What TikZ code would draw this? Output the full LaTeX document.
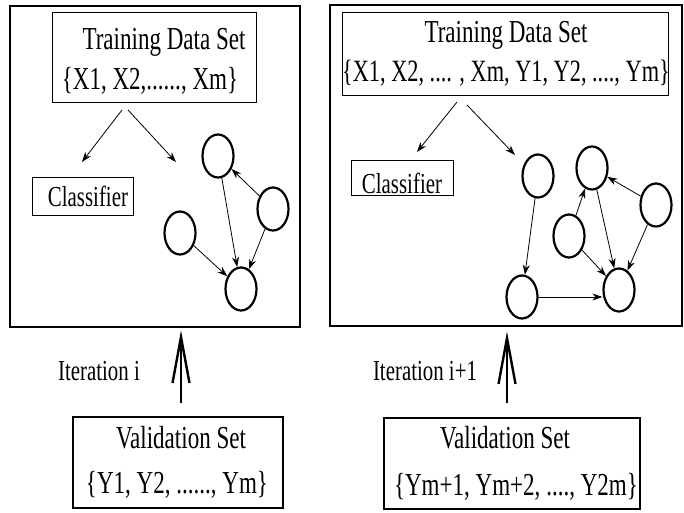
\documentclass[tikz,border=0pt]{standalone}
\usepackage{fontspec}
\setmainfont{Liberation Serif}[FakeStretch=0.72]
\usetikzlibrary{shapes.geometric,arrows.meta}

\begin{document}
\begin{tikzpicture}[x=1pt,y=-1pt,
  panel/.style={draw, line width=2.5pt, inner sep=0pt},
  setbox/.style={draw, line width=0.9pt, inner sep=0pt},
  valbox/.style={draw, line width=2.6pt, inner sep=0pt},
  big/.style={anchor=base, inner sep=0pt, font=\fontsize{32}{36}\selectfont},
  small/.style={anchor=base, inner sep=0pt, font=\fontsize{29}{33}\selectfont},
  state/.style={draw, ellipse, line width=2.2pt, minimum width=31pt, minimum height=43pt, inner sep=0pt},
  edge/.style={line width=0.8pt, -{Stealth[length=10pt,width=7pt]}},
  iter/.style={line width=1.6pt},
  barb/.style={line width=2.4pt, line join=miter}]
\useasboundingbox (0,0) rectangle (684,513);
% panels
\node[panel, minimum width=290pt, minimum height=321pt] (pa) at (155,166.5) {};
\node[panel, minimum width=352pt, minimum height=321pt] (pb) at (506,165.5) {};
% iteration i
\node[setbox, minimum width=204pt, minimum height=90pt] (ta) at (154,57) {};
\node[big] (ta1) at (164,50) {Training Data Set};
\node[big] (ta2) at (150,90) {\{X1, X2,......, Xm\}};
\node[setbox, minimum width=101pt, minimum height=38pt] (ca) at (82.5,196) {};
\node[small] (ca1) at (88,206) {Classifier};
\coordinate (la1) at (122,110);
\coordinate (la2) at (128,110);
\coordinate (le1) at (82,162);
\coordinate (le2) at (176,162);
\draw[edge] (la1) -- (le1);
\draw[edge] (la2) -- (le2);
\node[state] (c1) at (218,156) {};
\node[state] (c2) at (273,209) {};
\node[state] (c3) at (180,233) {};
\node[state] (c4) at (241,289) {};
\draw[edge] (c1) -- (c4);
\draw[edge] (c2) -- (c1);
\draw[edge] (c2) -- (c4);
\draw[edge] (c3) -- (c4);
% iteration i+1
\node[setbox, minimum width=326pt, minimum height=83pt] (tb) at (505,53.5) {};
\node[big] (tb1) at (506,43) {Training Data Set};
\node[big, font=\fontsize{31}{36}\selectfont] (tb2) at (506,82) {\{X1, X2, .... , Xm, Y1, Y2, ...., Ym\}};
\node[setbox, minimum width=102pt, minimum height=35pt] (cb) at (402,177.5) {};
\node[small] (cb1) at (402,193) {Classifier};
\coordinate (lb1) at (457,102);
\coordinate (lb2) at (467,105);
\coordinate (lf1) at (417,152);
\coordinate (lf2) at (515,155);
\draw[edge] (lb1) -- (lf1);
\draw[edge] (lb2) -- (lf2);
\node[state] (d1) at (538,176) {};
\node[state] (d2) at (592,168) {};
\node[state] (d3) at (656,205) {};
\node[state] (d4) at (569,236) {};
\node[state] (d5) at (522,297) {};
\node[state] (d6) at (619,290) {};
\draw[edge] (d1) -- (d5);
\draw[edge] (d5.east) -- (d5.east -| d6.west);
\draw[edge] (d4) -- (d2);
\draw[edge] (d4) -- (d6);
\draw[edge] (d2) -- (d6);
\draw[edge] (d3) -- (d2);
\draw[edge] (d3) -- (d6);
% validation sets
\node[valbox, minimum width=210pt, minimum height=91pt] (va) at (178,462.5) {};
\node[big] (va1) at (181,448) {Validation Set};
\node[big] (va2) at (177,493) {\{Y1, Y2, ......, Ym\}};
\node[valbox, minimum width=256pt, minimum height=91pt] (vb) at (512,463.5) {};
\node[big] (vb1) at (505,448) {Validation Set};
\node[big] (vb2) at (516,495) {\{Ym+1, Ym+2, ...., Y2m\}};
\coordinate (ia) at (181,403);
\coordinate (ja) at (181,337);
\coordinate (ib) at (507,403);
\coordinate (jb) at (507,338);
\draw[iter] (ia) -- (ja);
\draw[barb] (ja) +(-8.5,46) -- (ja) -- +(8.5,46);
\draw[iter] (ib) -- (jb);
\draw[barb] (jb) +(-8.5,46) -- (jb) -- +(8.5,46);
\node[small] (it1) at (99,380) {Iteration i};
\node[small] (it2) at (425,380) {Iteration i+1};
\end{tikzpicture}
\end{document}
